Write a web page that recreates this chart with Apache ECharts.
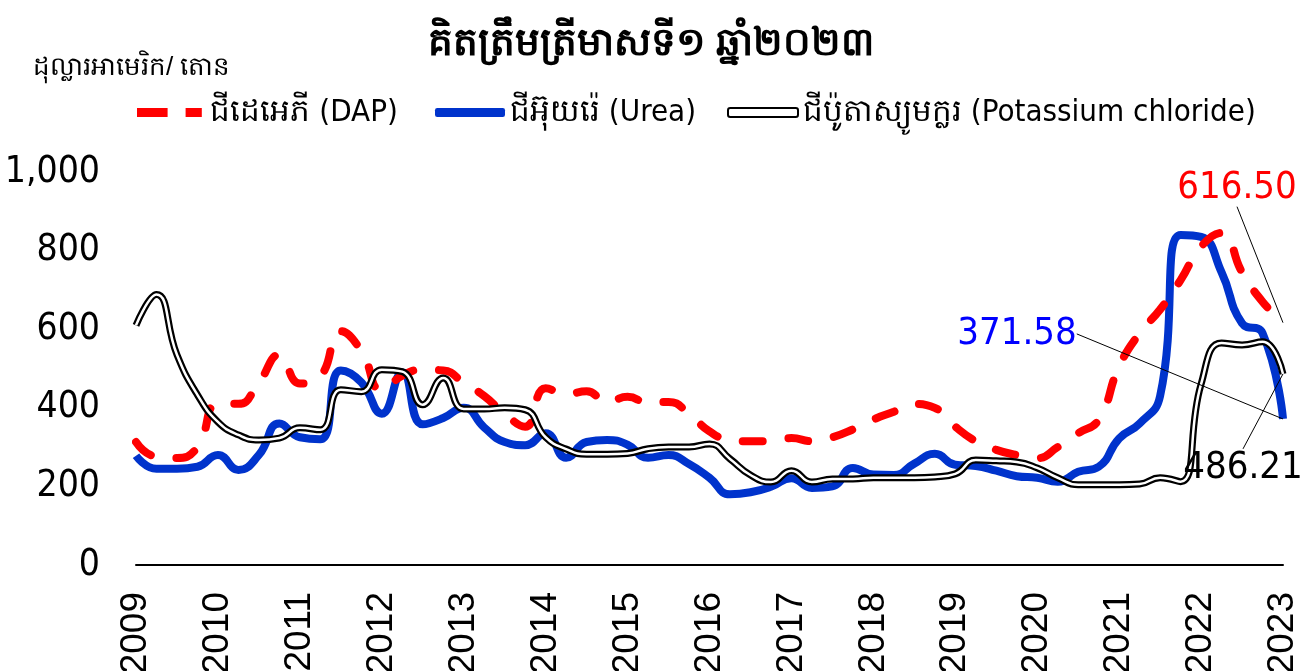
<!DOCTYPE html>
<html>
<head>
<meta charset="utf-8">
<script src="https://cdn.jsdelivr.net/npm/echarts@6/dist/echarts.min.js"></script>
<style>
  html, body { margin: 0; padding: 0; background: #fff; }
  #chart { width: 1302px; height: 671px; }
</style>
</head>
<body>
<div id="chart"></div>
<script>
  // years shown on the axis, one point per quarter from 2009Q1 to 2023Q1
  var years = ['2009', '2010', '2011', '2012', '2013', '2014', '2015', '2016',
    '2017', '2018', '2019', '2020', '2021', '2022', '2023']
  var quarters = []
  years.forEach(function (y) {
    ['Q1', 'Q2', 'Q3', 'Q4'].forEach(function (q) {
      if (y !== '2023' || q === 'Q1') quarters.push(y + q)
    })
  })

  var dap = [313, 275, 272, 300, 410, 410, 465, 535, 462, 480, 595, 545, 445, 482, 497, 495,
    464, 430, 385, 352, 450, 435, 442, 415, 428, 413, 415, 385, 340, 318, 315, 315,
    323, 315, 325, 345, 370, 390, 410, 400, 352, 315, 293, 280, 272, 300, 335, 370,
    505, 590, 650, 725, 810, 845, 745, 670, 616.5]
  var urea = [278, 245, 245, 250, 280, 242, 280, 360, 325, 320, 495, 465, 385, 490, 358, 374,
    400, 350, 313, 305, 335, 273, 313, 318, 306, 273, 280, 257, 222, 180, 185, 199,
    221, 196, 200, 247, 230, 229, 258, 283, 255, 252, 240, 226, 222, 212, 237, 250,
    322, 360, 430, 840, 835, 745, 615, 590, 371.58]
  var kcl = [610, 688, 535, 433, 364, 331, 318, 323, 349, 344, 446, 441, 497, 492, 408, 476,
    397, 397, 400, 395, 325, 295, 282, 282, 284, 296, 300, 300, 308, 270, 229, 211,
    240, 211, 219, 219, 222, 222, 222, 224, 232, 267, 265, 262, 247, 222, 204, 204,
    204, 206, 222, 212, 460, 565, 560, 568, 486.21]

  var names = ['ជីដេអេភី (DAP)', 'ជីអ៊ុយរ៉េ (Urea)', 'ជីប៉ូតាស្យូមក្លរ (Potassium chloride)']
  var narrow = "'Liberation Sans Narrow', 'DejaVu Sans Condensed', sans-serif"
  var arial = "'Liberation Sans', Arial, sans-serif"

  // only the last point gets a (tiny) symbol so its value label can show
  function lastLabelled(arr) {
    return arr.map(function (v, i) {
      return i === arr.length - 1
        ? { value: v, symbol: 'circle', symbolSize: 0.1, label: { show: true } }
        : v
    })
  }

  function endLabel(color, dx, dy) {
    return {
      label: {
        position: 'top',
        color: color,
        fontFamily: narrow,
        fontSize: 38,
        formatter: function (p) { return p.value.toFixed(2) }
      },
      labelLine: { show: true, lineStyle: { color: '#000', width: 1 } },
      labelLayout: { dx: dx, dy: dy }
    }
  }

  var legendText = { fontSize: 31, fontFamily: narrow, color: '#000' }

  var chart = echarts.init(document.getElementById('chart'))
  var option = {
    animation: false,
    title: [{
      text: 'គិតត្រឹមត្រីមាសទី១ ឆ្នាំ២០២៣',
      left: 'center',
      top: 20,
      textStyle: { fontSize: 39, fontWeight: 'bold', color: '#000' }
    }, {
      text: 'ដុល្លារអាមេរិក/ តោន',
      left: 28,
      top: 50,
      textStyle: { fontSize: 26, fontWeight: 'normal', color: '#000' }
    }],
    legend: [{
      data: [{ name: names[0], icon: 'path://M0,0h34v10h-34z M54,0h18v10h-18z' }],
      left: 132, top: 92, itemWidth: 72, itemHeight: 9,
      itemStyle: { color: '#FF0000' },
      textStyle: legendText
    }, {
      data: [{ name: names[1], icon: 'roundRect' }],
      left: 430, top: 92, itemWidth: 70, itemHeight: 9,
      itemStyle: { color: '#0033CC' },
      textStyle: legendText
    }, {
      data: [{
        name: names[2], icon: 'roundRect',
        itemStyle: { color: '#fff', borderColor: '#000', borderWidth: 2 }
      }],
      left: 722, top: 92, itemWidth: 70, itemHeight: 9,
      textStyle: legendText
    }],
    grid: {
      left: 136, right: 19, top: 172, bottom: 106,
      containLabel: false,
      outerBoundsMode: 'none'
    },
    xAxis: {
      type: 'category',
      boundaryGap: false,
      data: quarters,
      axisTick: { show: false },
      axisLine: { lineStyle: { color: '#000', width: 2 } },
      axisLabel: {
        rotate: 90,
        margin: 27,
        fontSize: 37,
        fontFamily: arial,
        color: '#000',
        interval: function (index) { return index % 4 === 0 },
        formatter: function (v) { return v.slice(0, 4) }
      }
    },
    yAxis: {
      type: 'value',
      min: 0,
      max: 1000,
      interval: 200,
      axisLine: { show: false },
      axisTick: { show: false },
      splitLine: { show: false },
      axisLabel: {
        margin: 36,
        fontSize: 37,
        fontFamily: narrow,
        color: '#000',
        formatter: function (v) { return v.toLocaleString('en-US') }
      }
    },
    series: [Object.assign({
      name: names[1],
      type: 'line',
      data: lastLabelled(urea),
      smooth: 0.5,
      symbol: 'none',
      color: '#0033CC',
      lineStyle: { width: 8, color: '#0033CC' }
    }, endLabel('#0000FF', -266, -61)), Object.assign({
      name: names[0],
      type: 'line',
      data: lastLabelled(dap),
      smooth: 0.5,
      symbol: 'none',
      color: '#FF0000',
      lineStyle: { width: 8, color: '#FF0000', type: [20, 26], cap: 'round' }
    }, endLabel('#FF0000', -46, -111)), Object.assign({
      name: names[2],
      type: 'line',
      data: lastLabelled(kcl),
      smooth: 0.5,
      symbol: 'none',
      color: '#000',
      lineStyle: { width: 7, color: '#000' }
    }, endLabel('#000', -40, 118)), {
      name: 'kcl-inner',
      type: 'line',
      data: kcl,
      smooth: 0.5,
      symbol: 'none',
      silent: true,
      color: '#fff',
      lineStyle: { width: 2.5, color: '#fff' }
    }]
  }
  chart.setOption(option)
</script>
</body>
</html>
